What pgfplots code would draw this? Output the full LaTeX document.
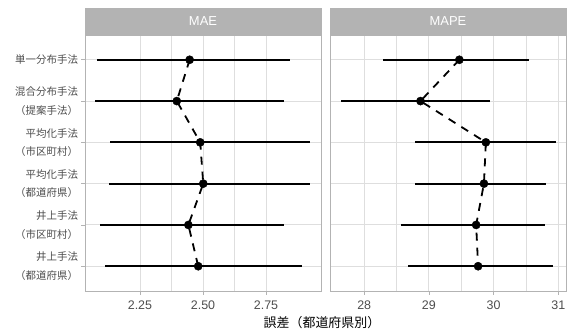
\documentclass[border=0pt]{standalone}
\usepackage{fontspec}
\setmainfont{Liberation Sans}
\newfontfamily\jp{Noto Sans CJK JP}
\usepackage{pgfplots}
\usepackage{pgfplotstable}
\pgfplotsset{compat=1.18}
\definecolor{stripgray}{HTML}{B3B3B3}
\definecolor{gridgray}{HTML}{DEDEDE}
\definecolor{ticktext}{HTML}{4D4D4D}

\pgfplotstableread{
y est lo hi
1 2.447 2.078 2.844
2 2.396 2.071 2.820
3 2.489 2.132 2.925
4 2.501 2.127 2.925
5 2.442 2.091 2.823
6 2.481 2.112 2.892
}\maetable

\pgfplotstableread{
y est lo hi
1 29.47 28.29 30.54
2 28.87 27.64 29.95
3 29.88 28.79 30.96
4 29.85 28.78 30.81
5 29.73 28.57 30.79
6 29.76 28.68 30.92
}\mapetable

\pgfplotsset{
  panel/.style={
    scale only axis, width=236bp, height=256bp,
    anchor=south west,
    y dir=reverse, ymin=0.4, ymax=6.6, ytick={1,...,6},
    axis line style={stripgray, line width=1bp},
    grid=both,
    major grid style={gridgray, line width=0.9bp},
    minor grid style={gridgray, line width=0.5bp},
    minor x tick num=1,
    tick align=outside, major tick length=3.5bp, minor tick length=0pt,
    tick style={stripgray, line width=0.8bp},
    xtick pos=left, ytick pos=left,
    xticklabel style={font=\fontsize{12.5}{12.5}\selectfont, text=ticktext, yshift=-3bp},
    /pgf/number format/assume math mode=true,
    clip=false,
  },
  ebars/.style={draw=none, mark=none,
    error bars/.cd, x dir=both, x explicit,
    error bar style={black, line width=2bp}, error mark=none},
  dline/.style={black, line width=1.8bp, dash pattern=on 8bp off 7bp, mark=none},
  dots/.style={only marks, mark=*, mark size=4.1bp, black},
}

\begin{document}
\begin{tikzpicture}
\useasboundingbox (0,0) rectangle (570bp,329bp);
\begin{axis}[panel, at={(85bp,38bp)},
  xmin=2.032, xmax=2.968,
  xtick={2.25,2.5,2.75}, xticklabels={2.25,2.50,2.75},
  yticklabels={
    {単一分布手法},
    {混合分布手法\\（提案手法）},
    {平均化手法\\（市区町村）},
    {平均化手法\\（都道府県）},
    {井上手法\\（市区町村）},
    {井上手法\\（都道府県）}},
  yticklabel style={align=right, font=\jp\fontsize{10.5}{18.5}\selectfont, text=ticktext},
]
\addplot[ebars] table[x=est, y=y, x error plus expr=\thisrow{hi}-\thisrow{est}, x error minus expr=\thisrow{est}-\thisrow{lo}] {\maetable};
\addplot[dline] table[x=est, y=y] {\maetable};
\addplot[dots] table[x=est, y=y] {\maetable};
\end{axis}
\begin{axis}[panel, at={(330bp,38bp)},
  xmin=27.472, xmax=31.118,
  xtick={28,29,30,31},
  yticklabels={}, ytick style={draw=none},
]
\addplot[ebars] table[x=est, y=y, x error plus expr=\thisrow{hi}-\thisrow{est}, x error minus expr=\thisrow{est}-\thisrow{lo}] {\mapetable};
\addplot[dline] table[x=est, y=y] {\mapetable};
\addplot[dots] table[x=est, y=y] {\mapetable};
\end{axis}
\fill[stripgray] (84.5bp,294bp) rectangle (321.5bp,321bp);
\fill[stripgray] (329.5bp,294bp) rectangle (566.5bp,321bp);
\node[text=white, font=\fontsize{13}{13}\selectfont] at (203bp,307.5bp) {MAE};
\node[text=white, font=\fontsize{13}{13}\selectfont] at (448bp,307.5bp) {MAPE};
\node[font=\jp\fontsize{13}{13}\selectfont] at (322bp,6bp) {誤差（都道府県別）};
\end{tikzpicture}
\end{document}
